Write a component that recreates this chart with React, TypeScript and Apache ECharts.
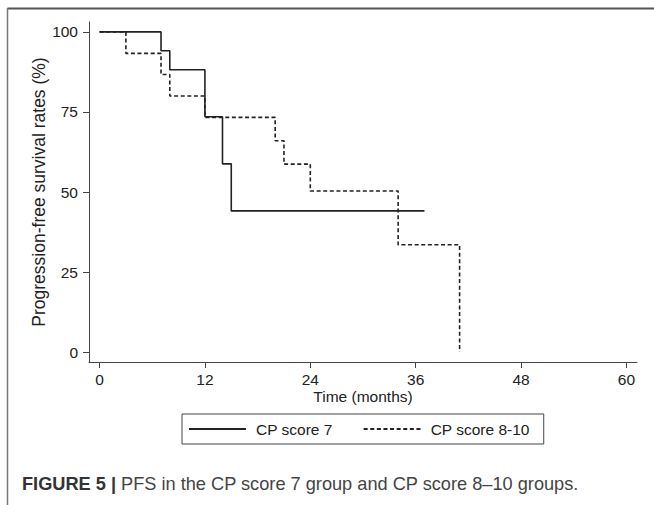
import React, { useEffect, useRef } from "react";
import * as echarts from "echarts";

const seriesNames = ["CP score 7", "CP score 8-10"];
const cp7Times = [0, 7, 8, 12, 14, 15, 37];
const cp7Survival = [100, 94.1, 88.2, 73.5, 58.8, 44.1, 44.1];
const cp810Times = [0, 3, 7, 8, 12, 20, 21, 24, 34, 41];
const cp810Survival = [100, 93.3, 86.7, 80, 73.3, 66, 58.7, 50.3, 33.5, 0];
const xTicks = [0, 12, 24, 36, 48, 60];
const yTicks = [0, 25, 50, 75, 100];
const yTitle = "Progression-free survival rates (%)";
const xTitle = "Time (months)";
const captionBold = "FIGURE 5 |";
const captionText = " PFS in the CP score 7 group and CP score 8–10 groups.";

const FONT = "'Liberation Sans', Arial, sans-serif";

export default function App() {
  const ref = useRef<HTMLDivElement>(null);
  useEffect(() => {
    if (!ref.current) return;
    const chart = echarts.init(ref.current, null, { renderer: "svg" });
    const zip = (t: number[], v: number[]) => t.map((x, i) => [x, v[i]]);
    chart.setOption({
      animation: false,
      backgroundColor: "#ffffff",
      textStyle: { fontFamily: FONT },
      grid: { left: 89, right: 17, top: 22, bottom: 143, containLabel: false },
      xAxis: {
        type: "value",
        min: -1.2,
        max: 61.2,
        name: xTitle,
        nameLocation: "middle",
        nameGap: 26,
        nameMoveOverlap: false,
        nameTextStyle: { fontSize: 15.5, color: "#222", fontFamily: FONT },
        axisLine: { show: true, onZero: false, lineStyle: { color: "#444", width: 1 } },
        axisTick: { show: true, inside: false, length: 6, customValues: xTicks, lineStyle: { color: "#444" } },
        axisLabel: { customValues: xTicks, fontSize: 15.5, color: "#222", margin: 9, fontFamily: FONT },
        splitLine: { show: false },
      },
      yAxis: {
        type: "value",
        min: -3.1,
        max: 103.1,
        name: yTitle,
        nameLocation: "middle",
        nameGap: 41,
        nameMoveOverlap: false,
        nameRotate: 90,
        nameTextStyle: { fontSize: 17.5, color: "#222", fontFamily: FONT },
        axisLine: { show: true, onZero: false, lineStyle: { color: "#444", width: 1 } },
        axisTick: { show: true, inside: false, length: 6, customValues: yTicks, lineStyle: { color: "#444" } },
        axisLabel: { customValues: yTicks, fontSize: 15.5, color: "#222", margin: 11, fontFamily: FONT },
        splitLine: { show: false },
      },
      legend: {
        left: 182,
        top: 414,
        itemWidth: 57,
        itemHeight: 14,
        itemGap: 30,
        padding: [7, 14, 7, 6],
        borderColor: "#444",
        borderWidth: 1,
        itemStyle: { opacity: 0, borderWidth: 0 },
        textStyle: { fontSize: 15.5, color: "#222", fontFamily: FONT, padding: [0, 0, 0, 5] },
        data: seriesNames,
      },
      series: [
        {
          name: seriesNames[0],
          type: "line",
          step: "end",
          symbol: "none",
          data: zip(cp7Times, cp7Survival),
          lineStyle: { color: "#222", width: 1.6, type: "solid" },
          itemStyle: { color: "#222" },
        },
        {
          name: seriesNames[1],
          type: "line",
          step: "end",
          symbol: "none",
          data: zip(cp810Times, cp810Survival),
          lineStyle: { color: "#222", width: 1.6, type: [4, 2.6] },
          itemStyle: { color: "#222" },
        },
      ],
      graphic: [
        {
          type: "line",
          shape: { x1: 7.5, y1: 8.5, x2: 654, y2: 8.5 },
          style: { stroke: "#555", lineWidth: 2 },
        },
        {
          type: "line",
          shape: { x1: 7.5, y1: 8, x2: 7.5, y2: 505 },
          style: { stroke: "#777", lineWidth: 1.5 },
        },
        {
          type: "text",
          left: 22,
          top: 475,
          style: {
            text: "{b|" + captionBold + "}{r|" + captionText + "}",
            rich: {
              b: { fontSize: 18.2, fontWeight: "bold", fill: "#333", fontFamily: FONT },
              r: { fontSize: 18.2, fill: "#444", fontFamily: FONT },
            },
          },
        },
      ],
    });
    return () => chart.dispose();
  }, []);
  return (
    <div
      ref={ref}
      style={{ position: "fixed", left: 0, top: 0, width: 654, height: 505, background: "#fff" }}
    />
  );
}
